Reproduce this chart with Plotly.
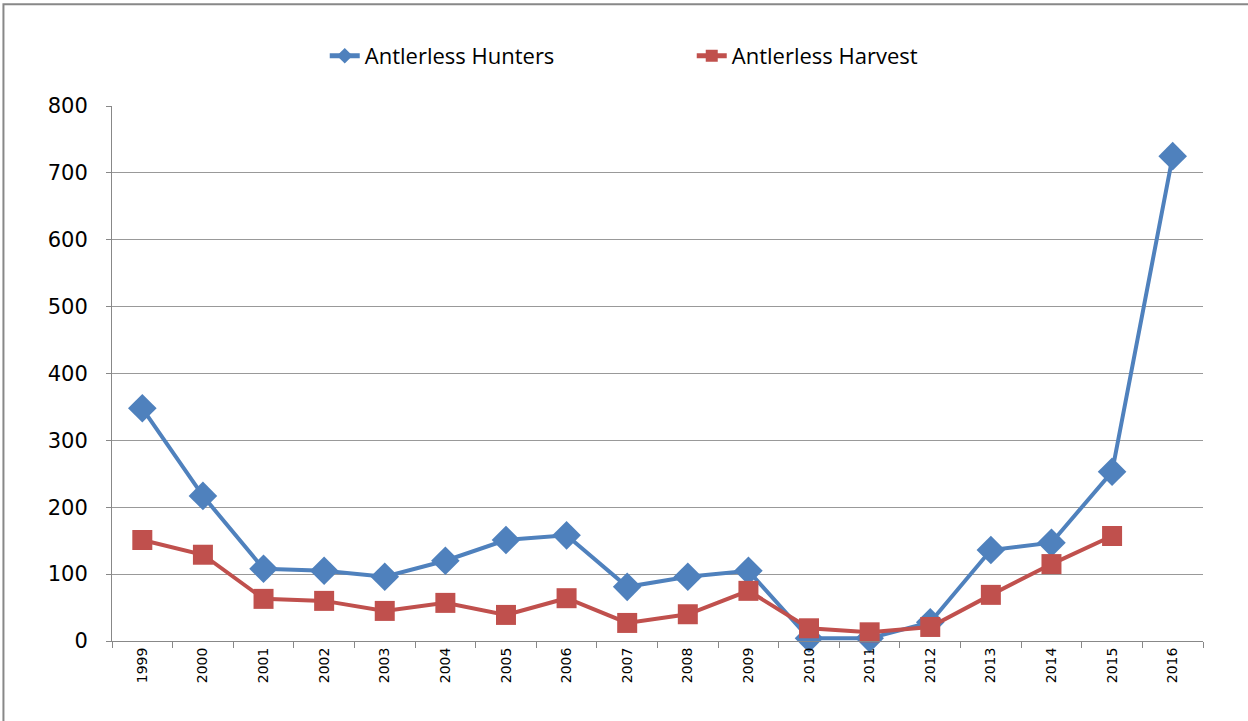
import plotly.graph_objects as go

years = [str(y) for y in range(1999, 2017)]
hunters = [348, 217, 108, 105, 96, 120, 151, 158, 81, 96, 105, 4, 4, 28, 136, 147, 253, 725]
harvest = [151, 129, 63, 60, 45, 57, 39, 64, 27, 40, 75, 19, 13, 21, 69, 115, 157, None]
y_ticks = [0, 100, 200, 300, 400, 500, 600, 700, 800]

fig = go.Figure()
fig.add_trace(go.Scatter(
    x=years, y=hunters, name="Antlerless Hunters", mode="lines+markers",
    line=dict(color="#4F81BD", width=4),
    marker=dict(symbol="diamond", size=22, color="#4F81BD"),
    cliponaxis=False,
))
fig.add_trace(go.Scatter(
    x=years, y=harvest, name="Antlerless Harvest", mode="lines+markers",
    line=dict(color="#C0504D", width=4),
    marker=dict(symbol="square", size=20, color="#C0504D"),
    cliponaxis=False,
))

fig.update_layout(
    width=1248, height=721,
    margin=dict(l=112, r=45, t=106, b=80),
    paper_bgcolor="white", plot_bgcolor="white",
    font=dict(family="Open Sans, sans-serif", color="#000"),
    showlegend=True,
    legend=dict(orientation="h", x=0.195, xanchor="left", y=1.0935, yanchor="middle",
                font=dict(size=22, family="Open Sans, sans-serif"),
                entrywidth=322, entrywidthmode="pixels", tracegroupgap=0,
                itemsizing="constant"),
    xaxis=dict(
        type="category", tickson="boundaries", ticks="outside", ticklen=6,
        tickcolor="#888", showline=True, linecolor="#888", linewidth=1,
        showgrid=False, tickangle=-90,
        tickfont=dict(size=14, family="DejaVu Sans, sans-serif"),
        range=[-0.5, 17.5],
    ),
    yaxis=dict(
        range=[0, 800], tickvals=y_ticks, ticks="outside", ticklen=5,
        tickcolor="#888", showline=True, linecolor="#888", linewidth=1,
        showgrid=True, gridcolor="#999", gridwidth=1, zeroline=False,
        tickfont=dict(size=21, family="DejaVu Sans, sans-serif"),
        ticklabelstandoff=14,
    ),
    shapes=[dict(type="rect", xref="paper", yref="paper",
                 x0=-0.0995, x1=1.2, y0=-0.4, y1=1.19,
                 line=dict(color="#888", width=2), fillcolor="rgba(0,0,0,0)", layer="below")],
)

fig.write_html("out.html")
